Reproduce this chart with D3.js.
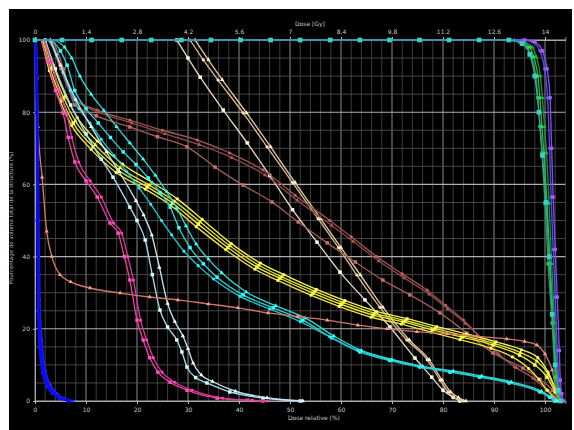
<!DOCTYPE html>
<html>
<head>
<meta charset="utf-8">
<script src="https://cdn.jsdelivr.net/npm/d3@7"></script>
<style>
  html, body { margin: 0; padding: 0; background: #ffffff; }
  svg { display: block; }
  text { font-family: "DejaVu Sans", sans-serif; }
</style>
</head>
<body>
<svg id="dvh" width="574" height="430"></svg>
<script>
// Relative dose axis (%) and absolute dose axis (Gy) tick labels
const relTicks = [0, 10, 20, 30, 40, 50, 60, 70, 80, 90, 100];
const gyTicks = [0, 1.4, 2.8, 4.2, 5.6, 7, 8.4, 9.8, 11.2, 12.6, 14];
const gyLabels = ["0", "1.4", "2.8", "4.2", "5.6", "7", "8.4", "9.8", "11.2", "12.6", "14"];
const volTicks = [0, 20, 40, 60, 80, 100];

// Cumulative DVH curves: [relative dose %, volume %]
const blueA = [[0,100],[0.15,95],[0.3,80],[0.45,50],[0.6,25],[0.9,15],[1.5,7.8],[2.4,4],[3.4,2.2],[4.8,0.8],[6.6,0]];
const blueB = [[0.1,100],[0.35,95],[0.5,80],[0.7,50],[0.9,28],[1.3,17],[2,8.5],[3,4.5],[4.3,2],[5.8,0.6],[7.4,0]];
const blueC = [[0.05,100],[0.25,95],[0.4,80],[0.6,50],[0.75,26],[1.1,16],[1.8,8],[2.7,4.2],[3.9,2],[5.3,0.7],[7,0]];

const salmon = [[0,100],[0.2,95],[0.4,89.5],[0.6,76],[1.4,62],[2.3,47],[3.3,40],[4.9,35],[7,33],[10.8,31.3],[16.7,29.9],[22.5,28.8],[28,28],[34,26.9],[39.8,25.8],[45.7,24.4],[51.5,23.4],[57.3,22.4],[63.3,21],[69,20],[74.9,19.2],[80.8,18.6],[86.6,17.9],[92.5,17.2],[96,16.5],[98.4,15.5],[100,13],[101.4,8.6],[102.3,3],[103,0]];

const magentaA = [[1.2,100],[2.5,94],[4,86],[5.5,79.8],[6.5,73],[7.8,66.2],[10,61],[12.2,56.5],[14.7,49.3],[16.3,46.5],[17.5,40],[18.6,33.5],[20,22.4],[21.2,16.9],[22.5,12],[24.1,8],[26.5,5.2],[29.8,3],[35.7,0.8],[41.6,0.2],[44.7,0]];
const magentaB = [[1.8,100],[3.2,94],[4.7,86],[6.2,79.8],[7.2,73],[8.6,66.2],[10.8,61],[13,56.5],[15.4,49.3],[17,46.5],[18.2,40],[19.3,33.5],[20.7,22.4],[21.9,16.9],[23.2,12],[24.9,8],[27.4,5.2],[30.8,3],[36.8,0.8],[42.6,0.2],[45.5,0]];

const paleBlueA = [[2,100],[4,92],[7,82],[10,74],[13,67],[15.3,62],[18.6,53.7],[20,50],[21.6,44.6],[23,35],[24.5,25.2],[26,20.5],[27.8,16.9],[28.8,13.6],[29.8,9.4],[31.5,6.5],[33.7,5],[38.2,2.5],[44.7,0.8],[52,0]];
const paleBlueB = [[3,100],[5,93],[8,83.5],[11,76],[14,69],[16.5,63.5],[19.8,55.5],[21.3,51.5],[22.9,46],[24.4,37],[26,27],[27.4,22],[29,18],[30,14.5],[31,10.5],[32.6,7.2],[34.8,5.4],[39.3,2.7],[45.5,0.9],[52.5,0]];

const cyanA = [[3,100],[5,97],[6.3,93],[7.8,86],[10,81],[12.4,77],[14.8,73],[17.3,69],[19.8,65.5],[22.2,61.8],[24.5,57.8],[26.5,53.7],[28.2,48],[30.4,42.5],[33,38],[35.7,34.3],[40.8,29.4],[46.7,25.8],[52.5,22.4],[58.2,17.5],[63.7,13.6],[69.6,11.2],[75.5,9.4],[81.4,8],[87.2,6.6],[93,5],[99,2.5],[101,1],[102,0]];
const cyanB = [[2.6,100],[4.2,96],[5.5,91],[6.9,86],[8.6,81],[10.8,77],[13,72.5],[15.5,68],[18,63.5],[20.4,59],[22.7,54.5],[24.8,50],[26.8,46],[29.2,41.5],[32,37.5],[35,33.8],[40.2,29],[46,25.5],[52,22],[57.8,17.8],[63.3,14],[69.3,11.5],[75.2,9.6],[81.2,8.2],[87,6.8],[92.8,5.2],[98.8,2.7],[100.8,1.1],[101.8,0]];
const cyanC = [[3.8,100],[5.8,98],[7.2,95],[8.8,90],[11,85],[13.5,80.5],[16,76],[18.6,71.5],[21.2,67],[23.6,62.5],[25.8,58],[27.8,53.5],[29.6,48.5],[31.6,43.5],[34,39.3],[36.6,35.5],[41.4,30.2],[47.2,26.4],[53,23],[58.6,18],[64,14],[70,11.5],[76,9.6],[82,8.3],[87.6,6.9],[93.4,5.3],[99.3,2.7],[101.2,1.1],[102.2,0]];

const yellowA = [[1.5,100],[3,92],[5.3,83.4],[7.5,77],[11.4,70.4],[16.3,64],[22,59.3],[27,54.8],[32,49],[37.8,42.5],[43.5,37.1],[48,34],[54.5,29.9],[60,26.8],[66.3,23.8],[72.2,21.9],[78,19.7],[83.7,17.7],[89.8,15.5],[95,12.7],[98,10],[100.4,6.6],[102,2.5],[103,0]];
const yellowB = [[2,100],[3.6,93],[6,84.5],[8.3,78.5],[12.2,72],[17.2,65.6],[22.9,60.6],[27.9,56],[32.8,50.3],[38.5,43.6],[44.2,38.2],[48.8,35],[55.2,30.9],[60.8,27.8],[67,24.8],[73,22.8],[78.8,20.6],[84.5,18.6],[90.4,16.4],[95.4,14.2],[98.6,12],[100.6,8],[102.2,3],[103.2,0]];
const yellowC = [[1.8,100],[3.3,92.5],[5.6,84],[7.9,77.6],[11.8,71],[16.7,64.6],[22.4,59.8],[27.4,55.3],[32.4,49.6],[38.2,43],[43.9,37.6],[48.4,34.4],[54.9,30.4],[60.4,27.3],[66.6,24.3],[72.6,22.3],[78.4,20.1],[84,18.1],[90.1,15.9],[95.2,13.4],[98.4,11],[100.6,7.5],[102.1,2.8],[103.1,0]];
const yellowD = [[1.3,100],[2.8,91.5],[5,82.8],[7.2,76.3],[11,69.7],[15.9,63.3],[21.6,58.7],[26.6,54.2],[31.6,48.3],[37.4,41.9],[43.1,36.5],[47.6,33.4],[54.1,29.3],[59.6,26.2],[65.9,23.2],[71.8,21.3],[77.6,19.1],[83.3,17],[89.4,14.6],[93.6,12.2],[96.8,9],[98.8,6],[100.4,3],[102.6,0]];

const brownA = [[3,100],[5,92],[7.5,84],[12.2,80.6],[18.6,77.8],[25,75],[31.8,72.3],[38.2,68.7],[44.7,64],[51,57],[57.8,50],[62,45.5],[67,40],[72,35.2],[76.9,30.7],[80.5,26.5],[84,22.4],[87.5,17.5],[90.6,13.3],[94,9.5],[97.6,6.4],[100.5,3],[103,0]];
const brownB = [[3.3,100],[5.3,92],[7.8,83.5],[12.5,80],[19,77],[25.5,74],[32.2,71],[38.6,67.4],[45.1,62.6],[51.4,55.6],[58.2,48.6],[62.4,44.2],[67.4,38.8],[72.4,34.1],[77.3,29.6],[80.9,25.5],[84.4,21.5],[87.9,16.8],[91,12.8],[94.4,9.2],[98,6.1],[100.8,2.8],[103.1,0]];
const brownC = [[3.6,100],[5.6,92],[7.8,82],[12,79],[18.6,75.9],[24,73.2],[29.8,70.4],[35.3,64.8],[40.8,59.8],[46.5,55.1],[51.6,49.6],[57.3,43.8],[62.8,38.5],[68.2,33.5],[73.5,29.4],[79.4,24.4],[84.7,18.8],[89.8,13.3],[95.7,9.1],[99,6],[101.5,3],[103,0]];

const tanA = [[27.8,100],[30,95],[32.4,89.7],[36.9,80.6],[41.6,71.5],[46,62.5],[50.5,53],[55.3,44],[59.8,35.7],[64.7,28],[69.6,20.5],[74.5,11.9],[77.8,6.6],[80,3],[82,1],[83.3,0]];
const tanB = [[30.4,100],[33,94.5],[35.9,88.9],[40.8,79.8],[45.5,70.4],[50.5,60.5],[55.5,50.5],[59.5,42.5],[63.1,34.9],[67.6,26],[72.9,16.9],[76.9,11.4],[79.4,5.8],[81,2.5],[82,1.1],[84,0]];
const tanC = [[31.4,100],[34,94.5],[36.7,89],[41.5,79.8],[46.2,70.4],[51,60.5],[56,50.5],[60,42.5],[63.8,34.9],[68.2,26],[73.4,16.9],[77.3,11.4],[79.8,5.8],[81.5,2.5],[83,1],[84.5,0]];

const greenA = [[0,100],[93,100],[95,99.5],[96.5,98],[97.4,95.3],[98.2,90],[98.6,84],[99,76],[99.4,68.7],[100,54.8],[100.6,38],[101.4,21.6],[102,6.6],[102.5,2],[103,0]];
const greenB = [[0,100],[93.5,100],[95.5,99.5],[97,98],[97.8,95.3],[98.6,90],[99,84],[99.4,76],[99.8,68.7],[100.4,54.8],[101,38],[101.7,21.6],[102.3,6.6],[102.8,2],[103.2,0]];
const greenC = [[0,100],[94,100],[96,99.5],[97.5,98],[98.3,95.3],[99.1,90],[99.5,84],[99.9,76],[100.3,68.7],[100.8,54.8],[101.3,38],[101.9,21.6],[102.5,6.6],[103,2],[103.4,0]];
const tealDrop = [[0,100],[5.3,100],[11.1,100],[17,100],[22.8,100],[28.7,100],[34.5,100],[40.3,100],[46.2,100],[52,100],[57.9,100],[63.7,100],[69.5,100],[75.4,100],[81.2,100],[87.1,100],[92.9,100],[95.5,99],[97,96],[98,90],[98.8,80],[99.5,68],[100.2,55],[100.8,40],[101.4,24],[102,10],[102.6,3],[103,0]];
const violetA = [[0,100],[96,100],[98,99.5],[99.5,97],[100.4,92],[101,84],[101.3,70],[101.6,56.5],[102,42],[102.4,28.8],[102.8,14],[103,5.8],[103.3,2],[103.6,0]];
const violetB = [[0,100],[95.5,100],[97.5,99.5],[99,97],[99.9,92],[100.5,84],[100.9,70],[101.2,56.5],[101.6,42],[102,28.8],[102.4,14],[102.7,5.8],[103,2],[103.4,0]];

// Structure styling, drawn back to front
const series = [
  { data: tanA, color: "#e6d6bf", mark: "square" },
  { data: tanB, color: "#d9b994", mark: "circle" },
  { data: tanC, color: "#e0c6a2", mark: "triangle" },
  { data: brownA, color: "#9a5050", mark: "circle" },
  { data: brownB, color: "#8c4848", mark: "triangle" },
  { data: brownC, color: "#a05a58", mark: "square" },
  { data: yellowA, color: "#eaea3a", mark: "square" },
  { data: yellowB, color: "#f2f250", mark: "circle" },
  { data: yellowC, color: "#dede30", mark: "triangle" },
  { data: yellowD, color: "#f0e040", mark: "circle" },
  { data: cyanA, color: "#28d0d0", mark: "square" },
  { data: cyanB, color: "#20c0c8", mark: "circle" },
  { data: cyanC, color: "#30d8d0", mark: "triangle" },
  { data: paleBlueA, color: "#a8d8ee", mark: "square" },
  { data: paleBlueB, color: "#c0e4f2", mark: "triangle" },
  { data: magentaA, color: "#e0409c", mark: "square" },
  { data: magentaB, color: "#d83894", mark: "circle" },
  { data: salmon, color: "#d07868", mark: "triangle" },
  { data: blueA, color: "#1010f0", mark: "square", thick: true },
  { data: blueB, color: "#2020d8", mark: "circle", thick: true },
  { data: blueC, color: "#0808ff", mark: "none", thick: true },
  { data: greenA, color: "#20a040", mark: "square" },
  { data: greenB, color: "#30b048", mark: "circle" },
  { data: greenC, color: "#189038", mark: "triangle" },
  { data: violetB, color: "#5050e8", mark: "circle" },
  { data: violetA, color: "#8848f0", mark: "square" },
  { data: tealDrop, color: "#30a8a0", mark: "square", big: true }
];

const svg = d3.select("#dvh");
const H = 430;

// Black panel
svg.append("rect").attr("x", 9).attr("y", 9).attr("width", 563).attr("height", H - 9).attr("fill", "#000");

const x = d3.scaleLinear().domain([0, 104]).range([35, 565.4]);
const xGy = d3.scaleLinear().domain([0, 14.56]).range([35, 565.4]);
const y = d3.scaleLinear().domain([0, 100]).range([401, 40]);

// Grid: minor every 2 % dose / 5 % volume, major every 10 % dose / 20 % volume
const grid = svg.append("g");
d3.range(0, 105, 2).forEach(v => {
  const major = v % 10 === 0;
  grid.append("line")
    .attr("x1", x(v)).attr("x2", x(v)).attr("y1", y(100)).attr("y2", y(0))
    .attr("stroke", major ? "#8a8a8a" : "#4c4c4c").attr("stroke-width", major ? 1 : 0.8);
});
d3.range(0, 101, 5).forEach(v => {
  const major = v % 20 === 0;
  grid.append("line")
    .attr("x1", x(0)).attr("x2", x(104)).attr("y1", y(v)).attr("y2", y(v))
    .attr("stroke", major ? "#b0b0b0" : "#555").attr("stroke-width", major ? 1.1 : 0.8);
});

// Axes
const axBottom = svg.append("g").attr("transform", `translate(0,${y(0)})`)
  .call(d3.axisBottom(x).tickValues(relTicks).tickSize(3).tickFormat(d3.format("d")));
const axTop = svg.append("g").attr("transform", `translate(0,${y(100)})`)
  .call(d3.axisTop(xGy).tickValues(gyTicks).tickSize(3).tickFormat((d, i) => gyLabels[i]));
const axLeft = svg.append("g").attr("transform", `translate(${x(0)},0)`)
  .call(d3.axisLeft(y).tickValues(volTicks).tickSize(2).tickFormat(d3.format("d")));
[axBottom, axTop, axLeft].forEach(g => {
  g.select(".domain").attr("stroke", "#bbb").attr("stroke-width", 0.8);
  g.selectAll(".tick line").attr("stroke", "#bbb");
  g.selectAll(".tick text").attr("fill", "#c8c8c8").attr("font-size", 6)
    .attr("font-family", "DejaVu Sans, sans-serif");
});
axBottom.selectAll(".tick text").attr("dy", "0.9em");

// Axis titles
svg.append("text").attr("x", 295).attr("y", 26).attr("fill", "#c8c8c8")
  .attr("font-size", 6).text("Dose [Gy]");
svg.append("text").attr("x", 288).attr("y", 420).attr("fill", "#c8c8c8")
  .attr("font-size", 6).text("Dose relative (%)");
svg.append("text").attr("transform", "translate(13,218) rotate(-90)")
  .attr("text-anchor", "middle").attr("fill", "#b8b8b8").attr("font-size", 5.5)
  .text("Pourcentage de volume total de la structure (%)");

// Curves with their sample markers
const line = d3.line().x(d => x(d[0])).y(d => y(d[1])).curve(d3.curveMonotoneX);
const curves = svg.append("g");
const lastIndex = series.length - 1;
series.forEach((s, i) => {
  curves.append("path").datum(s.data)
    .attr("d", line).attr("fill", "none")
    .attr("stroke", s.color).attr("stroke-width", s.thick ? 2.2 : 1.35)
    .attr("stroke-linejoin", "round");
  if (s.mark === "none") return;
  const sym = s.mark === "square" ? d3.symbolSquare : s.mark === "circle" ? d3.symbolCircle : d3.symbolTriangle;
  // plateau points at 100 % are only marked on the topmost curve
  const pts = s.data.filter(d => i === lastIndex || !(d[1] === 100 && d[0] < 92 && s.data.length > 20));
  const base = s.mark === "square" ? 12 : 8;
  curves.append("g").selectAll("path").data(pts).join("path")
    .attr("transform", d => `translate(${x(d[0])},${y(d[1])})`)
    .attr("d", d3.symbol().type(sym).size(s.big ? 22 : base))
    .attr("fill", d3.color(s.color).brighter(0.6))
    .attr("stroke", "none");
});
</script>
</body>
</html>
